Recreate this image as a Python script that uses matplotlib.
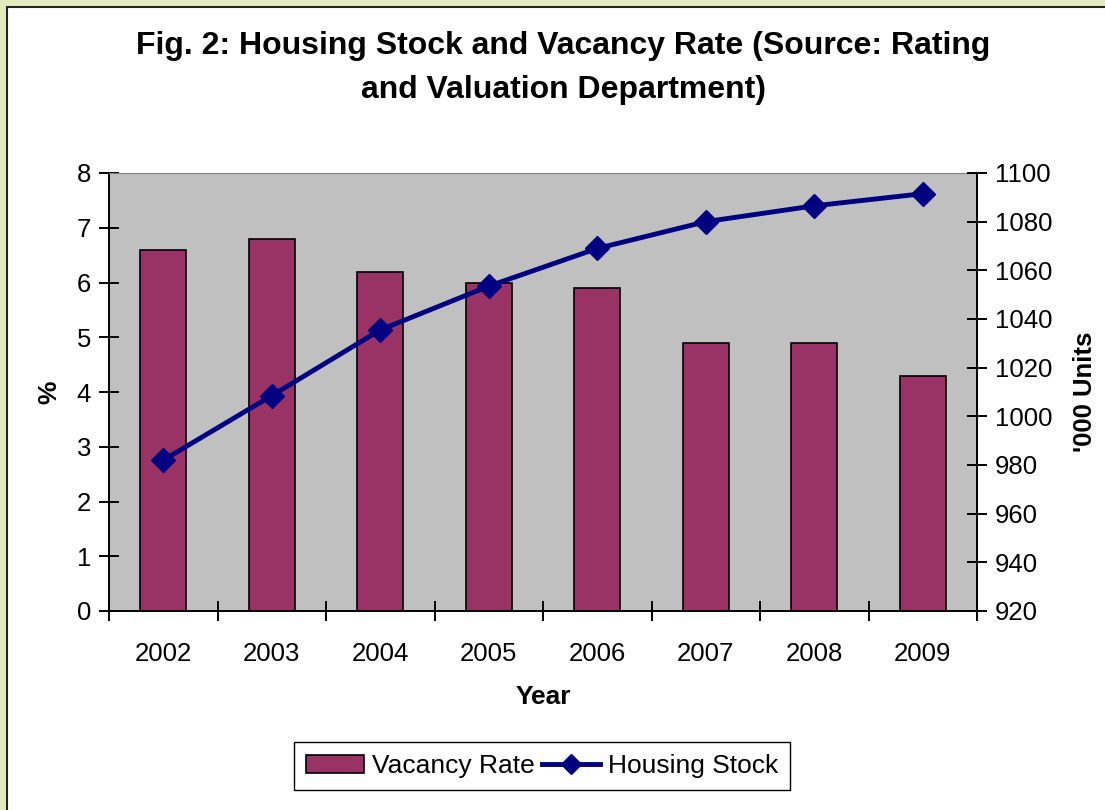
import numpy as np
import matplotlib.pyplot as plt
from matplotlib.patches import Rectangle
from matplotlib.lines import Line2D

years = ['2002', '2003', '2004', '2005', '2006', '2007', '2008', '2009']
vacancy_rate = [6.6, 6.8, 6.2, 6.0, 5.9, 4.9, 4.9, 4.3]
housing_stock = [982, 1008.5, 1035.5, 1053.5, 1069, 1080, 1086.5, 1091.5]

plt.rcParams['font.family'] = ['Arial', 'Liberation Sans', 'DejaVu Sans']

fig = plt.figure(figsize=(11.05, 8.1), dpi=100)
fig.patch.set_facecolor('#E3EAC0')
# white panel with dark border
fig.patches.append(Rectangle((7 / 1105, -0.1), 1.2, 1 - 7 / 810 + 0.1,
                             transform=fig.transFigure, facecolor='white',
                             edgecolor='#222222', linewidth=1.5, zorder=-10))

ax = fig.add_axes([109 / 1105, 1 - 611 / 810, (977 - 109) / 1105, (611 - 173) / 810])
ax.set_facecolor('#C0C0C0')
x = np.arange(len(years))
ax.bar(x, vacancy_rate, width=0.42, color='#993366', edgecolor='black', linewidth=1.2, zorder=2)
ax.set_xlim(-0.5, len(years) - 0.5)
ax.set_ylim(0, 8)
ax.set_yticks(range(0, 9))
ax.set_xticks(x)
ax.set_xticklabels(years)
ax.tick_params(axis='x', length=0, pad=22, labelsize=18.5)
ax.set_xticks(np.arange(-0.5, len(years), 1), minor=True)
ax.tick_params(axis='x', which='minor', direction='inout', length=14, width=1.4)
ax.tick_params(axis='y', direction='inout', length=14, width=1.4, labelsize=18.5, pad=6)
ax.spines['right'].set_visible(False)
ax.spines['top'].set_color('#808080')
ax.spines['left'].set_linewidth(1.4)
ax.spines['bottom'].set_linewidth(1.4)
ax.set_ylabel('%', fontsize=19, fontweight='bold', labelpad=11)
ax.set_xlabel('Year', fontsize=19, fontweight='bold', labelpad=14)

ax2 = ax.twinx()
ax2.plot(x, housing_stock, color='#000080', linewidth=3.5, marker='D', markersize=12, zorder=3)
ax2.set_ylim(920, 1100)
ax2.set_yticks(range(920, 1101, 20))
ax2.tick_params(axis='y', direction='inout', length=14, width=1.4, labelsize=18.5, pad=6)
for s in ['top', 'left', 'bottom']:
    ax2.spines[s].set_visible(False)
ax2.spines['right'].set_linewidth(1.4)
ax2.set_ylabel("'000 Units", fontsize=18.5, fontweight='bold', labelpad=15)

fig.text(0.51, 1 - 68 / 810, 'Fig. 2: Housing Stock and Vacancy Rate (Source: Rating\nand Valuation Department)',
         ha='center', va='center', fontsize=23, fontweight='bold', linespacing=1.6)

handles = [Rectangle((0, 0), 1, 1, facecolor='#993366', edgecolor='black', linewidth=1.2),
           Line2D([0], [0], color='#000080', linewidth=3.5, marker='D', markersize=10)]
fig.legend(handles, ['Vacancy Rate', 'Housing Stock'], loc='center',
           bbox_to_anchor=(542 / 1105, 1 - 766 / 810), ncol=2, fontsize=19,
           frameon=True, fancybox=False, edgecolor='black', framealpha=1,
           handlelength=2.2, columnspacing=0.3, handletextpad=0.3, borderpad=0.45)

fig.savefig('out.png', dpi=100, facecolor=fig.get_facecolor())
